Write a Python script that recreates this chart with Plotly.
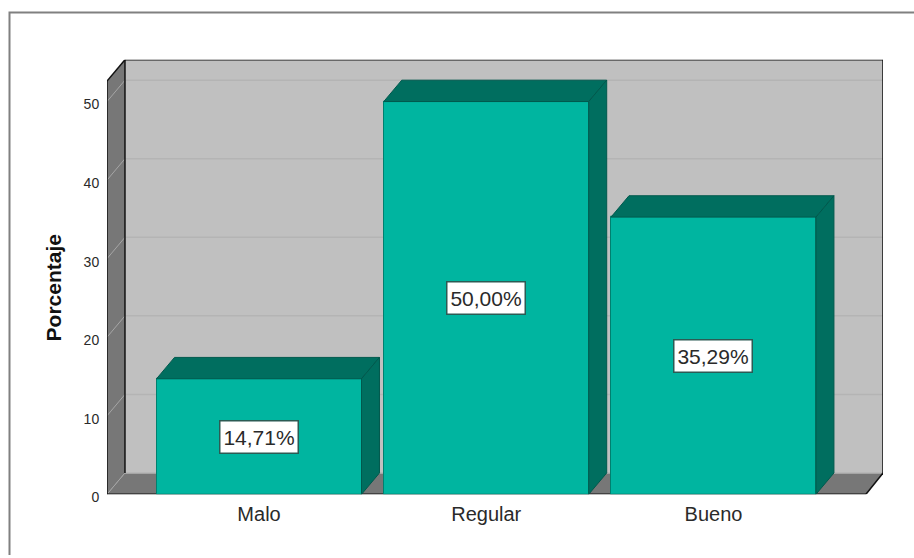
import plotly.graph_objects as go

categories = ["Malo", "Regular", "Bueno"]
percentages = [14.71, 50.00, 35.29]
labels = ["14,71%", "50,00%", "35,29%"]
y_ticks = [0, 10, 20, 30, 40, 50]
axis_title = "Porcentaje"

W, H = 914, 558
LAYOUT_H = H + 8
FRONT = "#00b5a0"
DARK = "#006e5f"
EDGE = "#00806f"
BACK = "#c0c0c0"
WALL = "#777777"
GRID = "#b4b4b4"
WALL_GRID = "#a6a6a6"
BLACK = "#111111"
TEXT = "#2a2a2a"
FONT = "Liberation Sans, Arial, sans-serif"

# axis ranges and depth of the 3D effect
XMIN, XMAX = -0.669, 2.746
XFRONT = 2.671
YMAX = 55.33
DX, DY = 0.0791, 2.72
BAR_W = 0.902

positions = list(range(len(categories)))


def poly(points, fill, line=None, width=0):
    path = "M " + " L ".join(f"{x},{y}" for x, y in points) + " Z"
    return dict(type="path", path=path, xref="x", yref="y", layer="below",
                fillcolor=fill, line=dict(color=line or fill, width=width))


def seg(x0, y0, x1, y1, color, width=1):
    return dict(type="line", x0=x0, y0=y0, x1=x1, y1=y1, xref="x", yref="y",
                layer="below", line=dict(color=color, width=width))


shapes = [
    poly([(XMIN + DX, DY), (XMAX, DY), (XMAX, YMAX), (XMIN + DX, YMAX)], BACK),
    poly([(XMIN, 0), (XMIN + DX, DY), (XMIN + DX, YMAX), (XMIN, YMAX - DY)], WALL),
    poly([(XMIN, 0), (XFRONT, 0), (XMAX, DY), (XMIN + DX, DY)], WALL),
]
for t in y_ticks:
    shapes.append(seg(XMIN, t, XMIN + DX, t + DY, WALL_GRID, 1))
    shapes.append(seg(XMIN + DX, t + DY, XMAX, t + DY, GRID, 1.5))
top = YMAX
shapes += [
    seg(XMIN, 0, XMIN, top - DY, BLACK, 1.5),
    seg(XMIN + DX, DY, XMIN + DX, top, BLACK, 1.5),
    seg(XMIN, top - DY, XMIN + DX, top, BLACK, 1.5),
    seg(XMIN + DX, top, XMAX, top, BLACK, 1.5),
    seg(XMAX, DY, XMAX, top, BLACK, 1.5),
    seg(XFRONT, 0, XMAX, DY, BLACK, 1.5),
    seg(XMIN, 0, XFRONT, 0, BLACK, 1.5),
]
# outer frame of the chart, in paper coordinates
shapes.append(dict(type="path", xref="paper", yref="paper", layer="below",
                   path=f"M {9.5 / W},0 L {9.5 / W},{1 - 12.5 / H} L 1,{1 - 12.5 / H}",
                   line=dict(color="#808080", width=2)))

fig = go.Figure()
fig.add_trace(go.Bar(x=positions, y=percentages, width=BAR_W,
                     marker=dict(color=FRONT, line=dict(color=EDGE, width=1)),
                     hoverinfo="skip", showlegend=False))

for p, v in zip(positions, percentages):
    l, r = p - BAR_W / 2, p + BAR_W / 2
    top_face = [(l, v), (l + DX, v + DY), (r + DX, v + DY), (r, v), (l, v)]
    side_face = [(r, 0), (r + DX, DY), (r + DX, v + DY), (r, v), (r, 0)]
    for face in (top_face, side_face):
        fig.add_trace(go.Scatter(x=[a for a, _ in face], y=[b for _, b in face],
                                 mode="lines", fill="toself", fillcolor=DARK,
                                 line=dict(color="#00594d", width=1),
                                 hoverinfo="skip", showlegend=False))

annotations = [
    dict(x=p, y=v / 2, text=t, xref="x", yref="y", showarrow=False,
         font=dict(family=FONT, size=21, color=TEXT), bgcolor="white",
         bordercolor="#2b5b54", borderwidth=1.5, borderpad=2, width=73, height=27)
    for p, v, t in zip(positions, percentages, labels)
]
annotations.append(dict(x=53 / W, y=1 - 290 / H, xref="paper", yref="paper", text=f"<b>{axis_title}</b>",
                        textangle=-90, showarrow=False, xanchor="center", yanchor="middle",
                        font=dict(family=FONT, size=21, color="#111111")))

fig.update_layout(
    width=W, height=LAYOUT_H, autosize=False,
    margin=dict(l=0, r=0, t=0, b=0),
    paper_bgcolor="white", plot_bgcolor="rgba(0,0,0,0)",
    font=dict(family=FONT, color=TEXT),
    shapes=shapes, annotations=annotations, bargap=0,
    xaxis=dict(domain=[107 / W, 883 / W], range=[XMIN, XMAX], tickmode="array",
               tickvals=positions, ticktext=categories, showgrid=False, zeroline=False,
               showline=False, ticks="outside", ticklen=8, ticklabelstandoff=-6,
               tickcolor="rgba(0,0,0,0)", tickfont=dict(family=FONT, size=20, color=TEXT)),
    yaxis=dict(domain=[1 - 497 / H, 1 - 60 / H], range=[0, YMAX], tickmode="array",
               tickvals=y_ticks, showgrid=False, zeroline=False, showline=False,
               ticks="outside", ticklen=4, tickcolor="rgba(0,0,0,0)", ticklabelshift=3,
               tickfont=dict(family=FONT, size=14, color=TEXT)),
)

fig.write_html("out.html", config={"displayModeBar": False},
               post_script="document.body.style.margin='0';")
